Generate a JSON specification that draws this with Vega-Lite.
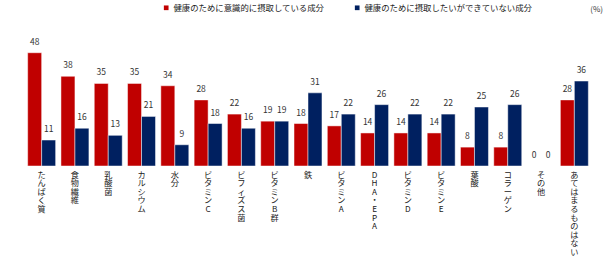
{
  "$schema": "https://vega.github.io/schema/vega-lite/v6.json",
  "width": 566,
  "height": 141.6,
  "autosize": {"type": "none"},
  "padding": {"left": 25, "top": 24.4, "right": 21, "bottom": 92},
  "config": {"font": "Noto Sans CJK JP", "view": {"stroke": null}},
  "title": {"text": "(%)", "anchor": "end", "orient": "top", "frame": "group", "fontSize": 8, "fontWeight": "normal", "color": "#333333", "offset": -11, "dx": 12},
  "data": {"values": [
    {"item": "たんぱく質", "series": "健康のために意識的に摂取している成分", "value": 48},
    {"item": "たんぱく質", "series": "健康のために摂取したいができていない成分", "value": 11},
    {"item": "食物繊維", "series": "健康のために意識的に摂取している成分", "value": 38},
    {"item": "食物繊維", "series": "健康のために摂取したいができていない成分", "value": 16},
    {"item": "乳酸菌", "series": "健康のために意識的に摂取している成分", "value": 35},
    {"item": "乳酸菌", "series": "健康のために摂取したいができていない成分", "value": 13},
    {"item": "カルシウム", "series": "健康のために意識的に摂取している成分", "value": 35},
    {"item": "カルシウム", "series": "健康のために摂取したいができていない成分", "value": 21},
    {"item": "水分", "series": "健康のために意識的に摂取している成分", "value": 34},
    {"item": "水分", "series": "健康のために摂取したいができていない成分", "value": 9},
    {"item": "ビタミンC", "series": "健康のために意識的に摂取している成分", "value": 28},
    {"item": "ビタミンC", "series": "健康のために摂取したいができていない成分", "value": 18},
    {"item": "ビフィズス菌", "series": "健康のために意識的に摂取している成分", "value": 22},
    {"item": "ビフィズス菌", "series": "健康のために摂取したいができていない成分", "value": 16},
    {"item": "ビタミンB群", "series": "健康のために意識的に摂取している成分", "value": 19},
    {"item": "ビタミンB群", "series": "健康のために摂取したいができていない成分", "value": 19},
    {"item": "鉄", "series": "健康のために意識的に摂取している成分", "value": 18},
    {"item": "鉄", "series": "健康のために摂取したいができていない成分", "value": 31},
    {"item": "ビタミンA", "series": "健康のために意識的に摂取している成分", "value": 17},
    {"item": "ビタミンA", "series": "健康のために摂取したいができていない成分", "value": 22},
    {"item": "DHA・EPA", "series": "健康のために意識的に摂取している成分", "value": 14},
    {"item": "DHA・EPA", "series": "健康のために摂取したいができていない成分", "value": 26},
    {"item": "ビタミンD", "series": "健康のために意識的に摂取している成分", "value": 14},
    {"item": "ビタミンD", "series": "健康のために摂取したいができていない成分", "value": 22},
    {"item": "ビタミンE", "series": "健康のために意識的に摂取している成分", "value": 14},
    {"item": "ビタミンE", "series": "健康のために摂取したいができていない成分", "value": 22},
    {"item": "葉酸", "series": "健康のために意識的に摂取している成分", "value": 8},
    {"item": "葉酸", "series": "健康のために摂取したいができていない成分", "value": 25},
    {"item": "コラーゲン", "series": "健康のために意識的に摂取している成分", "value": 8},
    {"item": "コラーゲン", "series": "健康のために摂取したいができていない成分", "value": 26},
    {"item": "その他", "series": "健康のために意識的に摂取している成分", "value": 0},
    {"item": "その他", "series": "健康のために摂取したいができていない成分", "value": 0},
    {"item": "あてはまるものはない", "series": "健康のために意識的に摂取している成分", "value": 28},
    {"item": "あてはまるものはない", "series": "健康のために摂取したいができていない成分", "value": 36}
  ]},
  "encoding": {
    "x": {
      "field": "item", "type": "nominal", "sort": null, "title": null,
      "scale": {"paddingInner": 0.16, "paddingOuter": 0.08},
      "axis": {"labelAngle": 0, "domain": false, "ticks": false, "labelPadding": 5, "labelBaseline": "top", "labelFontSize": 8.2, "labelLineHeight": 8.6, "labelExpr": "split(datum.label, '')", "labelOverlap": false, "labelColor": "#222222", "labelLimit": 0}
    },
    "xOffset": {"field": "series", "type": "nominal", "sort": ["健康のために意識的に摂取している成分", "健康のために摂取したいができていない成分"], "scale": {"paddingInner": 0, "paddingOuter": 0}},
    "y": {"field": "value", "type": "quantitative", "scale": {"domain": [0, 60]}, "axis": null}
  },
  "layer": [
    {
      "mark": {"type": "bar", "stroke": "white", "strokeWidth": 0.8, "strokeOpacity": 0.6},
      "encoding": {
        "color": {
          "field": "series", "type": "nominal",
          "scale": {"domain": ["健康のために意識的に摂取している成分", "健康のために摂取したいができていない成分"], "range": ["#C00000", "#002060"]},
          "legend": {"title": null, "orient": "none", "legendX": 137, "legendY": -21, "direction": "horizontal", "symbolType": "square", "symbolSize": 22, "symbolStrokeWidth": 0, "labelFontSize": 8.4, "labelOffset": 3, "columnPadding": 28, "labelColor": "#222222", "labelLimit": 0}
        }
      }
    },
    {
      "mark": {"type": "text", "baseline": "bottom", "dy": -6, "fontSize": 8.5, "color": "#333333"},
      "encoding": {"text": {"field": "value", "type": "quantitative"}}
    }
  ]
}
